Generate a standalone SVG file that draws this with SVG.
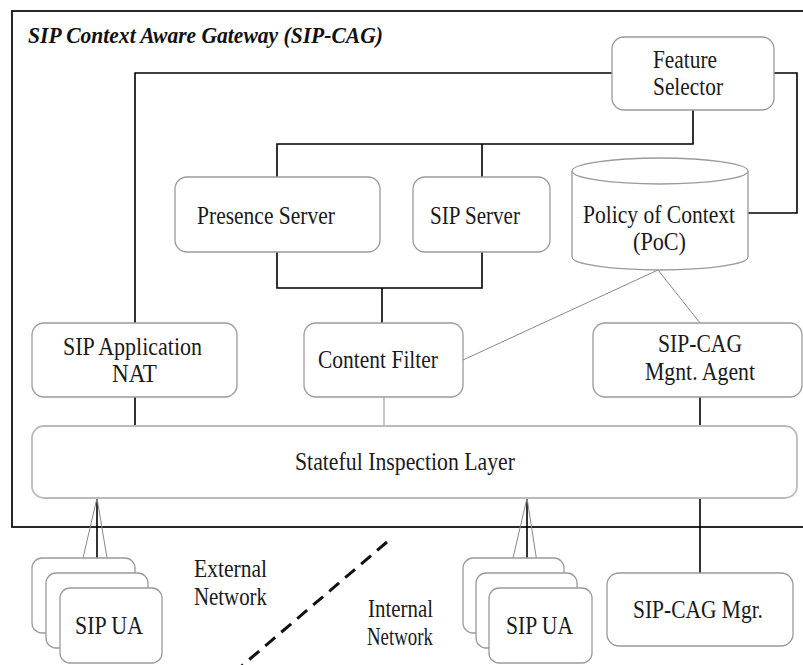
<svg xmlns="http://www.w3.org/2000/svg" width="803" height="665" viewBox="0 0 803 665">
  <style>
    .box { fill: #ffffff; stroke: #9a9a9a; stroke-width: 1.3; }
    .wire { fill: none; stroke: #000000; stroke-width: 1.6; }
    .thin { fill: none; stroke: #888888; stroke-width: 1; }
    .lbl { font-family: "Liberation Serif", "Times New Roman", serif; font-size: 26px; fill: #1a1a1a; }
    .title { font-family: "Liberation Serif", "Times New Roman", serif; font-size: 23px; font-weight: bold; font-style: italic; fill: #111111; }
  </style>
  <rect width="803" height="665" fill="#ffffff"/>

  <!-- gateway frame -->
  <g id="gateway">
    <rect x="12" y="11" width="800" height="516" fill="none" stroke="#111" stroke-width="1.8"/>
    <text class="title" x="28" y="43" textLength="355" lengthAdjust="spacingAndGlyphs">SIP Context Aware Gateway (SIP-CAG)</text>
  </g>

  <!-- connectors -->
  <g id="connectors">
    <!-- feature selector to NAT -->
    <path class="wire" d="M612,73 H135 V323"/>
    <!-- feature selector to PoC -->
    <path class="wire" d="M774,73 H797 V213 H748"/>
    <!-- feature selector to presence / SIP server -->
    <path class="wire" d="M693,110 V144 H277 V177 M482,144 V177"/>
    <!-- presence / SIP server to content filter -->
    <path class="wire" d="M277,252 V288 H482 V252 M382,288 V323"/>
    <!-- PoC links -->
    <path class="thin" d="M658,270 L463,360 M658,270 L700,323"/>
    <!-- middle tier to inspection layer -->
    <path class="wire" d="M135,397 V426 M700,397 V426"/>
    <path fill="none" stroke="#aaaaaa" stroke-width="1.3" d="M384,397 V426"/>
    <!-- inspection layer to external elements -->
    <path class="wire" d="M97,498 V573 M527,498 V573 M700,498 V573"/>
    <path class="thin" d="M97,498 L83,558 M97,498 L112,588 M527,498 L513,558 M527,498 L541,588"/>
    <!-- network boundary -->
    <path fill="none" stroke="#111" stroke-width="3" stroke-dasharray="13 8" d="M387,542 L230,676"/>
  </g>

  <g id="feature-selector">
    <rect class="box" x="612" y="37" width="162" height="73" rx="12"/>
    <text class="lbl" x="653" y="68" textLength="64" lengthAdjust="spacingAndGlyphs">Feature</text>
    <text class="lbl" x="653" y="95" textLength="70" lengthAdjust="spacingAndGlyphs">Selector</text>
  </g>

  <g id="presence-server">
    <rect class="box" x="175" y="177" width="205" height="75" rx="12"/>
    <text class="lbl" x="197" y="224" textLength="138" lengthAdjust="spacingAndGlyphs">Presence Server</text>
  </g>

  <g id="sip-server">
    <rect class="box" x="413" y="177" width="137" height="75" rx="12"/>
    <text class="lbl" x="430" y="224" textLength="90" lengthAdjust="spacingAndGlyphs">SIP Server</text>
  </g>

  <g id="policy-of-context">
    <path class="box" d="M572,171 V257 A88,13 0 0 0 748,257 V171"/>
    <ellipse class="box" cx="660" cy="171" rx="88" ry="13"/>
    <text class="lbl" x="583" y="223" textLength="152" lengthAdjust="spacingAndGlyphs">Policy of Context</text>
    <text class="lbl" x="633" y="250" textLength="53" lengthAdjust="spacingAndGlyphs">(PoC)</text>
  </g>

  <g id="sip-application-nat">
    <rect class="box" x="32" y="323" width="205" height="74" rx="12"/>
    <text class="lbl" x="63" y="355" textLength="139" lengthAdjust="spacingAndGlyphs">SIP Application</text>
    <text class="lbl" x="112" y="382" textLength="45" lengthAdjust="spacingAndGlyphs">NAT</text>
  </g>

  <g id="content-filter">
    <rect class="box" x="304" y="323" width="159" height="74" rx="12"/>
    <text class="lbl" x="318" y="368" textLength="120" lengthAdjust="spacingAndGlyphs">Content Filter</text>
  </g>

  <g id="mgnt-agent">
    <rect class="box" x="593" y="323" width="209" height="74" rx="12"/>
    <text class="lbl" x="658" y="352" textLength="84" lengthAdjust="spacingAndGlyphs">SIP-CAG</text>
    <text class="lbl" x="645" y="380" textLength="110" lengthAdjust="spacingAndGlyphs">Mgnt. Agent</text>
  </g>

  <g id="stateful-inspection">
    <rect x="32" y="426" width="765" height="72" rx="12" fill="#ffffff" stroke="#bbbbbb" stroke-width="1.8"/>
    <text class="lbl" x="295" y="470" textLength="220" lengthAdjust="spacingAndGlyphs">Stateful Inspection Layer</text>
  </g>

  <g id="external-ua">
    <rect class="box" x="32" y="558" width="103" height="75" rx="10"/>
    <rect class="box" x="46" y="573" width="102" height="75" rx="10"/>
    <rect class="box" x="60" y="588" width="102" height="75" rx="10"/>
    <text class="lbl" x="75" y="634" textLength="68" lengthAdjust="spacingAndGlyphs">SIP UA</text>
  </g>

  <g id="external-network">
    <text class="lbl" x="194" y="577" textLength="73" lengthAdjust="spacingAndGlyphs">External</text>
    <text class="lbl" x="194" y="605" textLength="73" lengthAdjust="spacingAndGlyphs">Network</text>
  </g>

  <g id="internal-network">
    <text class="lbl" x="368" y="617" textLength="65" lengthAdjust="spacingAndGlyphs">Internal</text>
    <text class="lbl" x="367" y="645" textLength="66" lengthAdjust="spacingAndGlyphs">Network</text>
  </g>

  <g id="internal-ua">
    <rect class="box" x="463" y="558" width="101" height="75" rx="10"/>
    <rect class="box" x="476" y="573" width="101" height="75" rx="10"/>
    <rect class="box" x="489" y="588" width="103" height="75" rx="10"/>
    <text class="lbl" x="506" y="634" textLength="67" lengthAdjust="spacingAndGlyphs">SIP UA</text>
  </g>

  <g id="sip-cag-mgr">
    <rect class="box" x="607" y="573" width="186" height="73" rx="12"/>
    <text class="lbl" x="633" y="618" textLength="130" lengthAdjust="spacingAndGlyphs">SIP-CAG Mgr.</text>
  </g>
</svg>
